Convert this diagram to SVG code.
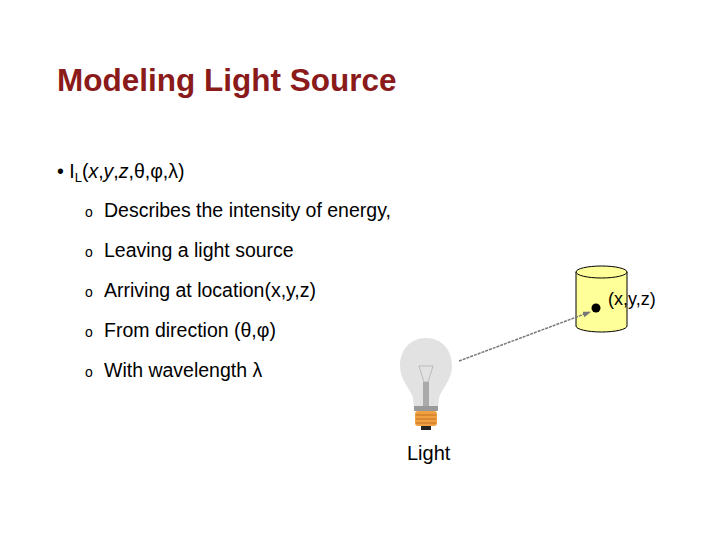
<svg xmlns="http://www.w3.org/2000/svg" width="720" height="540" viewBox="0 0 720 540">
<style>
text{font-family:"Liberation Sans",Arial,sans-serif;}
.b{font-size:19.5px;fill:#000}
.o{font-size:14px;fill:#000}
</style>
<defs><marker id="ah" markerWidth="8" markerHeight="6" refX="7" refY="3" orient="auto" markerUnits="userSpaceOnUse"><path d="M0,0L8,3L0,6z" fill="#777"/></marker></defs>
<rect width="720" height="540" fill="#fff"/>
<text id="title" x="57" y="91" font-size="31.5" font-weight="bold" fill="#8b1a1a">Modeling Light Source</text>
<g id="bullets">
<text class="b" x="57" y="178">• I<tspan font-size="13" dy="4">L</tspan><tspan dy="-4">(</tspan><tspan font-style="italic">x</tspan>,<tspan font-style="italic">y</tspan>,<tspan font-style="italic">z</tspan>,θ,φ,λ)</text>
<text class="o" x="85" y="217">o</text><text class="b" x="104" y="217">Describes the intensity of energy,</text>
<text class="o" x="85" y="257">o</text><text class="b" x="104" y="257">Leaving a light source</text>
<text class="o" x="85" y="297">o</text><text class="b" x="104" y="297">Arriving at location(x,y,z)</text>
<text class="o" x="85" y="337">o</text><text class="b" x="104" y="337">From direction (θ,φ)</text>
<text class="o" x="85" y="377">o</text><text class="b" x="104" y="377">With wavelength λ</text>
</g>
<g id="cylinder">
<path d="M576,272 L576,326 A25.5,6 0 0 0 627,326 L627,272 Z" fill="#ffff99" stroke="#000" stroke-width="1"/>
<ellipse cx="601.5" cy="272" rx="25.5" ry="6" fill="#ffff99" stroke="#000" stroke-width="1"/>
<circle cx="596" cy="308" r="4.5" fill="#000"/>
<text x="608" y="305" font-size="18">(x,y,z)</text>
</g>
<g id="bulb">
<path d="M426,338 C410,338 400,350 400,366 C400,380 410,388 413,398 L414,408 L438,408 L439,398 C442,388 452,380 452,366 C452,350 442,338 426,338 Z" fill="#e2e2e2"/>
<path d="M419,366 L433,366 L428,382 L424,382 Z" fill="none" stroke="#bbb" stroke-width="1"/>
<rect x="423" y="382" width="6" height="26" fill="#aaa"/>
<rect x="414" y="406" width="24" height="5" fill="#999"/>
<rect x="415" y="411" width="22" height="15" rx="3" fill="#f0a040"/>
<path d="M416,415 H436 M416,419 H436 M416,423 H436" stroke="#c07020" stroke-width="1"/>
<rect x="421" y="426" width="10" height="4" fill="#222"/>
<text x="407" y="460" font-size="20">Light</text>
</g>
<g id="connectors">
<line x1="459" y1="361" x2="590" y2="312" stroke="#777" stroke-width="1.5" stroke-dasharray="3,1" marker-end="url(#ah)"/>
</g>
</svg>
